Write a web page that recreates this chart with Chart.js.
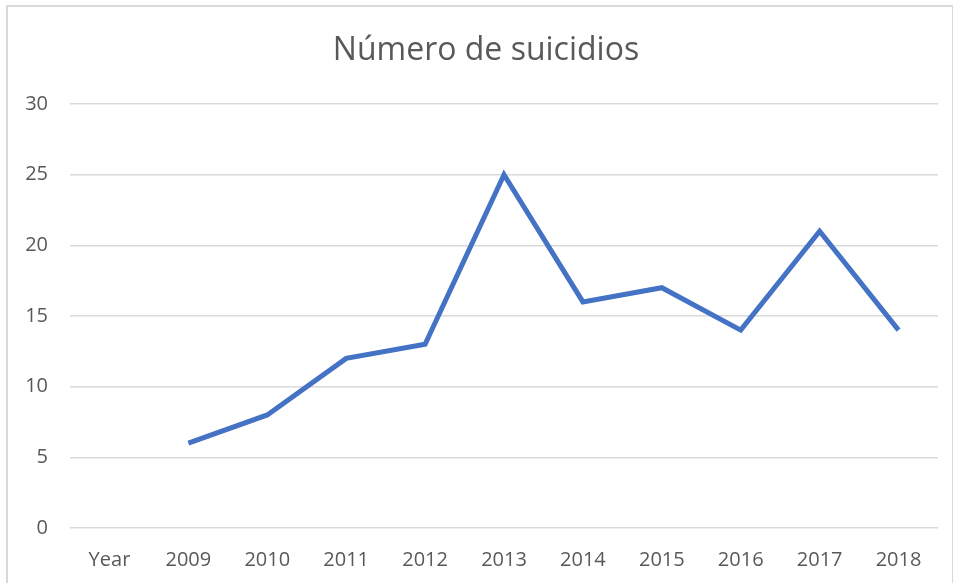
<!DOCTYPE html>
<html>
<head>
<meta charset="utf-8">
<script src="https://cdn.jsdelivr.net/npm/chart.js@4"></script>
<style>
  html, body { margin: 0; padding: 0; background: #fff; }
  #wrap { position: relative; width: 953px; height: 583px; overflow: hidden; }
  #frame { position: absolute; left: 6px; top: 5px; width: 944px; height: 620px; border: 2px solid #d9d9d9; pointer-events: none; }
  canvas { position: absolute; left: 0; top: 0; }
</style>
</head>
<body>
<div id="wrap">
  <canvas id="chart" width="953" height="583"></canvas>
  <div id="frame"></div>
</div>
<script>
  const categories = ['Year', '2009', '2010', '2011', '2012', '2013', '2014', '2015', '2016', '2017', '2018'];
  const suicides = [null, 6, 8, 12, 13, 25, 16, 17, 14, 21, 14];
  const yTicks = [0, 5, 10, 15, 20, 25, 30];
  const titleText = 'Número de suicidios';

  const textColor = '#595959';
  const fontFamily = "'Open Sans', 'Liberation Sans', sans-serif";

  // title drawn by hand so it can sit a bit left of the plot centre
  const titlePlugin = {
    id: 'offsetTitle',
    afterDraw(chart) {
      const ctx = chart.ctx;
      const area = chart.chartArea;
      ctx.save();
      ctx.fillStyle = textColor;
      ctx.font = '32px ' + fontFamily;
      ctx.textAlign = 'center';
      ctx.textBaseline = 'middle';
      ctx.fillText(titleText, (area.left + area.right) / 2 - 18, 51);
      ctx.restore();
    },
  };

  new Chart(document.getElementById('chart'), {
    type: 'line',
    data: {
      labels: categories,
      datasets: [{
        label: titleText,
        data: suicides,
        borderColor: '#4472c4',
        borderWidth: 5,
        pointRadius: 0,
        tension: 0,
        spanGaps: false,
      }],
    },
    options: {
      responsive: false,
      animation: false,
      layout: { padding: { left: 0, right: 15, top: 104, bottom: 0 } },
      plugins: {
        legend: { display: false },
        tooltip: { enabled: false },
        title: { display: false },
      },
      scales: {
        x: {
          offset: true,
          grid: { display: false, drawTicks: false },
          border: { display: false },
          ticks: {
            color: textColor,
            font: { family: fontFamily, size: 20 },
            padding: 20,
            autoSkip: false,
            maxRotation: 0,
          },
          afterFit: (scale) => { scale.height = 55; },
        },
        y: {
          min: 0,
          max: 30,
          afterBuildTicks: (scale) => { scale.ticks = yTicks.map((v) => ({ value: v })); },
          grid: { color: '#d9d9d9', lineWidth: 1.5, drawTicks: false },
          border: { display: false },
          ticks: {
            color: textColor,
            font: { family: fontFamily, size: 20 },
            padding: 22,
          },
          afterFit: (scale) => { scale.width = 70; },
        },
      },
    },
    plugins: [titlePlugin],
  });
</script>
</body>
</html>
